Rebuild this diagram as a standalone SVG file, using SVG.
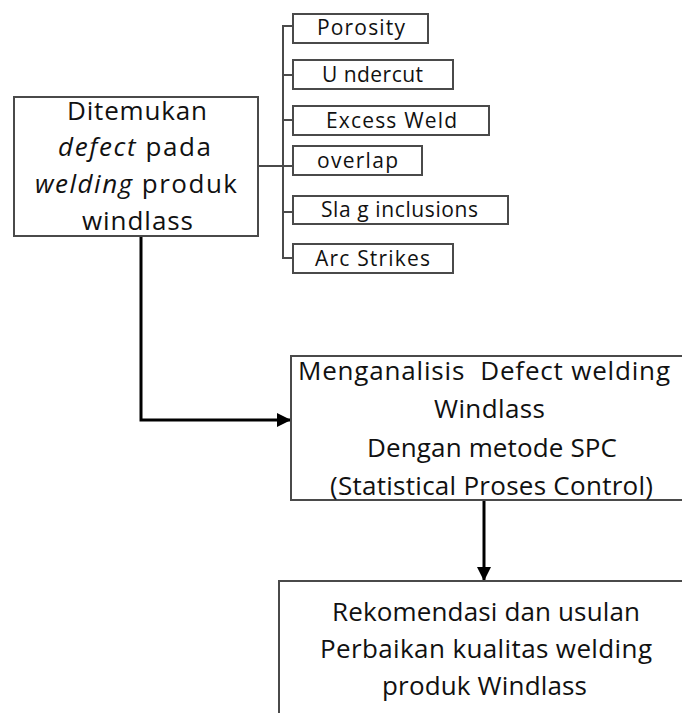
<svg xmlns="http://www.w3.org/2000/svg" width="682" height="713" viewBox="0 0 682 713">
<style>
.box{fill:#fff;stroke:#4a4a4a;stroke-width:2}
.sbox{fill:#fff;stroke:#4a4a4a;stroke-width:2}
.t{font-family:"Open Sans","Liberation Sans",sans-serif;font-size:26px;fill:#111}
.s{font-family:"Open Sans","Liberation Sans",sans-serif;font-size:21px;fill:#111}
.br{fill:none;stroke:#4a4a4a;stroke-width:2}
.ar{fill:none;stroke:#000;stroke-width:3}
</style>
<defs>
<marker id="ah" markerUnits="userSpaceOnUse" markerWidth="14" markerHeight="14" refX="13" refY="7" orient="auto">
<path d="M0,0 L14,7 L0,14 Z" fill="#000"/>
</marker>
</defs>
<rect width="682" height="713" fill="#fff"/>
<g id="connectors">
<path class="br" d="M258,166 H293"/>
<path class="br" d="M293,26 H283 V258 H293"/>
<path class="br" d="M283,75 H293 M283,120 H293 M283,212 H293"/>
<path class="ar" d="M141,236 V420 H290" marker-end="url(#ah)"/>
<path class="ar" d="M484,500 V580" marker-end="url(#ah)"/>
</g>
<g id="n-main">
<rect class="box" x="14" y="97" width="244" height="139"/>
<text class="t" x="67" y="120" textLength="140" lengthAdjust="spacing">Ditemukan</text>
<text class="t" x="58" y="156" textLength="153" lengthAdjust="spacing"><tspan font-style="italic">defect</tspan> pada</text>
<text class="t" x="35" y="193" textLength="202" lengthAdjust="spacing"><tspan font-style="italic">welding</tspan> produk</text>
<text class="t" x="82" y="230" textLength="111" lengthAdjust="spacing">windlass</text>
</g>
<g id="n-porosity">
<rect class="sbox" x="293" y="14" width="135" height="29"/>
<text class="s" x="317" y="35" textLength="88" lengthAdjust="spacing">Porosity</text>
</g>
<g id="n-undercut">
<rect class="sbox" x="293" y="60" width="160" height="29"/>
<text class="s" x="322" y="82" textLength="101" lengthAdjust="spacing">U ndercut</text>
</g>
<g id="n-excess">
<rect class="sbox" x="293" y="106" width="196" height="29"/>
<text class="s" x="326" y="128" textLength="131" lengthAdjust="spacing">Excess Weld</text>
</g>
<g id="n-overlap">
<rect class="sbox" x="293" y="146" width="129" height="29"/>
<text class="s" x="317" y="168" textLength="81" lengthAdjust="spacing">overlap</text>
</g>
<g id="n-slag">
<rect class="sbox" x="293" y="196" width="215" height="28"/>
<text class="s" x="321" y="217" textLength="157" lengthAdjust="spacing">Sla g inclusions</text>
</g>
<g id="n-arc">
<rect class="sbox" x="293" y="244" width="160" height="29"/>
<text class="s" x="315" y="266" textLength="115" lengthAdjust="spacing">Arc Strikes</text>
</g>
<g id="n-analisis">
<rect class="box" x="291" y="356" width="400" height="144"/>
<text class="t" x="298" y="380" textLength="372" lengthAdjust="spacing" xml:space="preserve">Menganalisis  Defect welding</text>
<text class="t" x="434" y="418" textLength="111" lengthAdjust="spacing">Windlass</text>
<text class="t" x="367" y="457" textLength="250" lengthAdjust="spacing">Dengan metode SPC</text>
<text class="t" x="330" y="495" textLength="323" lengthAdjust="spacing">(Statistical Proses Control)</text>
</g>
<g id="n-rekomendasi">
<rect class="box" x="279" y="581" width="412" height="140"/>
<text class="t" x="332" y="621" textLength="308" lengthAdjust="spacing">Rekomendasi dan usulan</text>
<text class="t" x="320" y="658" textLength="332" lengthAdjust="spacing">Perbaikan kualitas welding</text>
<text class="t" x="382" y="695" textLength="205" lengthAdjust="spacing">produk Windlass</text>
</g>
</svg>
